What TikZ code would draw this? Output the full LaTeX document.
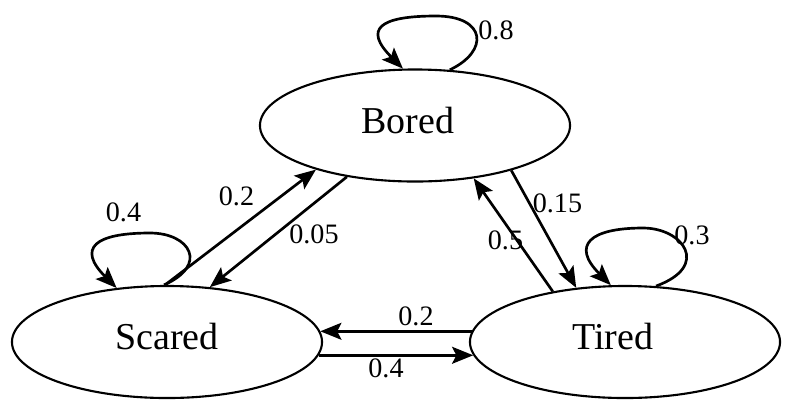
\documentclass[tikz,border=0pt]{standalone}
\usepackage{fontspec}
\setmainfont{Liberation Serif}
\usepackage{tikz}
\usetikzlibrary{arrows.meta,shapes.geometric}

\begin{document}
\begin{tikzpicture}[x=0.025cm,y=-0.025cm,
  state/.style={ellipse,draw,line width=1.5pt,minimum width=7.75cm,minimum height=2.8cm,
    inner sep=0pt,font=\fontsize{27}{32}\selectfont,text height=0.68cm,text depth=0.3cm},
  edge/.style={line width=1.9pt,-{Stealth[length=15pt,width=12pt,inset=3pt]}},
  prob/.style={font=\fontsize{20}{24}\selectfont,inner sep=0pt}]
\useasboundingbox (0,0) rectangle (795,410);
\node[state] (bored) at (415,125.5) {Bored\hspace*{0.35cm}};
\node[state] (scared) at (167,342) {Scared};
\node[state] (tired) at (625,342) {Tired\hspace*{0.6cm}};

\draw[edge] (bored.58) .. controls +(40,-19) and +(50,0) .. (436,16)
  .. controls +(-56,0) and +(-40,-40) .. (bored.102);
\draw[edge] (scared.93) .. controls +(45,-20) and +(40,0) .. (150,233)
  .. controls +(-55,0) and +(-40,-40) .. (scared.133);
\draw[edge] (tired.61) .. controls +(55,-20) and +(40,0) .. (643,228)
  .. controls +(-53,0) and +(-40,-40) .. (tired.104);
\draw[edge] (scared.92) -- (bored.204);
\draw[edge] (bored.217) -- (scared.52);
\draw[edge] (bored.335) -- (tired.132);
\draw[edge] (tired.145) -- (bored.318);
\draw[edge] (tired.176) -- (scared.4);
\draw[edge] (scared.355) -- (tired.185);

\node[prob] (pbb) at (496,30) {0.8};
\node[prob] (pss) at (123.5,212) {0.4};
\node[prob] (psb) at (236.5,196) {0.2};
\node[prob] (pbs) at (314,234) {0.05};
\node[prob] (pbt) at (557.5,203) {0.15};
\node[prob] (ptb) at (505.5,240) {0.5};
\node[prob] (ptt) at (692,235) {0.3};
\node[prob] (pts) at (416,316) {0.2};
\node[prob] (pst) at (386,368) {0.4};
\end{tikzpicture}
\end{document}
